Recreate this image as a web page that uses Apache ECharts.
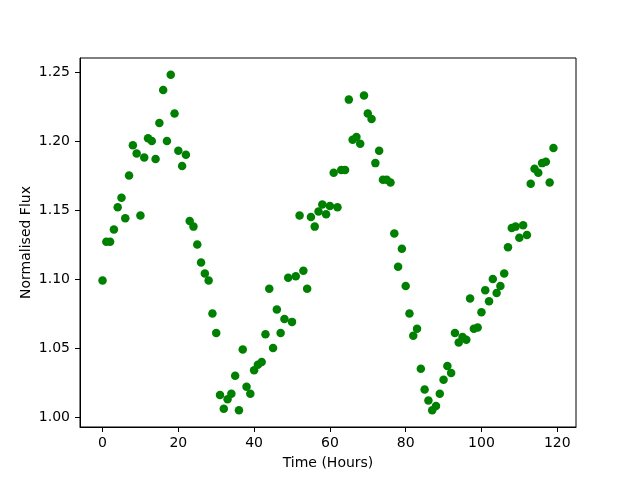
<!DOCTYPE html>
<html>
<head>
<meta charset="utf-8">
<script src="https://cdn.jsdelivr.net/npm/echarts@6/dist/echarts.min.js"></script>
<style>
html, body { margin: 0; padding: 0; background: #fff; }
#main { width: 640px; height: 480px; }
</style>
</head>
<body>
<div id="main"></div>
<script>
// hours since start of observation
const hours = [
  0, 1, 2, 3, 4, 5, 6, 7, 8, 9, 10, 11, 12, 13, 14, 15, 16, 17, 18, 19,
  20, 21, 22, 23, 24, 25, 26, 27, 28, 29, 30, 31, 32, 33, 34, 35, 36, 37, 38, 39,
  40, 41, 42, 43, 44, 45, 46, 47, 48, 49, 50, 51, 52, 53, 54, 55, 56, 57, 58, 59,
  60, 61, 62, 63, 64, 65, 66, 67, 68, 69, 70, 71, 72, 73, 74, 75, 76, 77, 78, 79,
  80, 81, 82, 83, 84, 85, 86, 87, 88, 89, 90, 91, 92, 93, 94, 95, 96, 97, 98, 99,
  100, 101, 102, 103, 104, 105, 106, 107, 108, 109, 110, 111, 112, 113, 114, 115, 116, 117, 118, 119
];
// normalised flux
const flux = [
  1.099, 1.127, 1.127, 1.136, 1.152, 1.159, 1.144, 1.175, 1.197, 1.191,
  1.146, 1.188, 1.202, 1.200, 1.187, 1.213, 1.237, 1.200, 1.248, 1.220,
  1.193, 1.182, 1.190, 1.142, 1.138, 1.125, 1.112, 1.104, 1.099, 1.075,
  1.061, 1.016, 1.006, 1.013, 1.017, 1.030, 1.005, 1.049, 1.022, 1.017,
  1.034, 1.038, 1.040, 1.060, 1.093, 1.050, 1.078, 1.061, 1.071, 1.101,
  1.069, 1.102, 1.146, 1.106, 1.093, 1.145, 1.138, 1.149, 1.154, 1.147,
  1.153, 1.177, 1.152, 1.179, 1.179, 1.230, 1.201, 1.203, 1.198, 1.233,
  1.220, 1.216, 1.184, 1.193, 1.172, 1.172, 1.170, 1.133, 1.109, 1.122,
  1.095, 1.075, 1.059, 1.064, 1.035, 1.020, 1.012, 1.005, 1.008, 1.017,
  1.027, 1.037, 1.032, 1.061, 1.054, 1.058, 1.056, 1.086, 1.064, 1.065,
  1.076, 1.092, 1.084, 1.100, 1.090, 1.095, 1.104, 1.123, 1.137, 1.138,
  1.130, 1.139, 1.132, 1.169, 1.180, 1.177, 1.184, 1.185, 1.170, 1.195
];
const xTicks = [0, 20, 40, 60, 80, 100, 120];
const yTicks = [1.00, 1.05, 1.10, 1.15, 1.20, 1.25];

const points = hours.map((h, i) => [h, flux[i]]);
const font = 'DejaVu Sans';

const option = {
  animation: false,
  backgroundColor: '#fff',
  grid: {
    left: 80, right: 64, top: 58, bottom: 53,
    show: true, borderColor: '#000', borderWidth: 1
  },
  xAxis: {
    type: 'value',
    min: -5.95,
    max: 124.95,
    name: 'Time (Hours)',
    nameLocation: 'middle',
    nameGap: 29,
    nameMoveOverlap: false,
    nameTextStyle: { fontFamily: font, fontSize: 14, color: '#000' },
    axisLine: { show: true, onZero: false, lineStyle: { color: '#000', width: 1 } },
    axisTick: { show: true, length: 5, lineStyle: { color: '#000' }, customValues: xTicks },
    axisLabel: { fontFamily: font, fontSize: 14, color: '#000', margin: 9, customValues: xTicks },
    splitLine: { show: false }
  },
  yAxis: {
    type: 'value',
    min: 0.99285,
    max: 1.26015,
    name: 'Normalised Flux',
    nameLocation: 'middle',
    nameGap: 47,
    nameMoveOverlap: false,
    nameTextStyle: { fontFamily: font, fontSize: 14, color: '#000' },
    axisLine: { show: true, onZero: false, lineStyle: { color: '#000', width: 1 } },
    axisTick: { show: true, length: 5, lineStyle: { color: '#000' }, customValues: yTicks },
    axisLabel: {
      fontFamily: font, fontSize: 14, color: '#000', margin: 10,
      customValues: yTicks,
      formatter: v => v.toFixed(2)
    },
    splitLine: { show: false }
  },
  series: [{
    type: 'scatter',
    data: points,
    symbol: 'circle',
    symbolSize: 8.5,
    itemStyle: { color: '#008000', opacity: 1 }
  }]
};

const myChart = echarts.init(document.getElementById('main'), null, { renderer: 'canvas' });
myChart.setOption(option);
</script>
</body>
</html>
